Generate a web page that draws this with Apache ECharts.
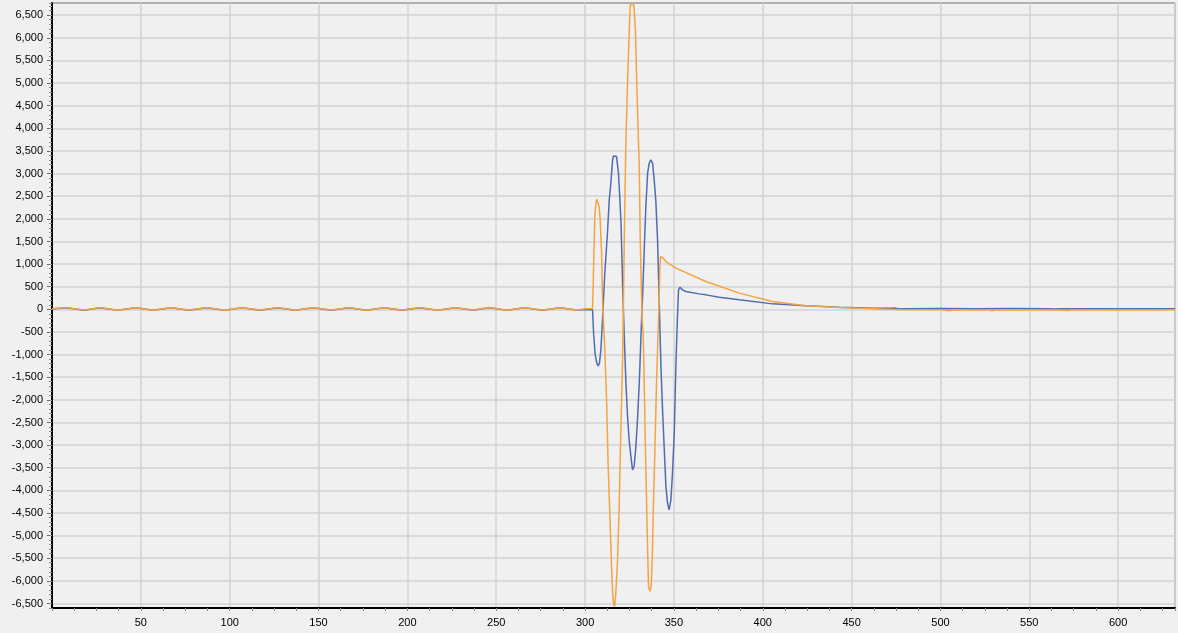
<!DOCTYPE html>
<html><head><meta charset="utf-8">
<style>html,body{margin:0;padding:0;background:#f0f0f0;}#chart{width:1178px;height:633px;}</style>
<script src="https://cdn.jsdelivr.net/npm/echarts@6.0.0/dist/echarts.min.js"></script>
</head><body><div id="chart"></div>
<script>
const yTickValues = [-6500,-6000,-5500,-5000,-4500,-4000,-3500,-3000,-2500,-2000,-1500,-1000,-500,0,500,1000,1500,2000,2500,3000,3500,4000,4500,5000,5500,6000,6500];
const xTickValues = [50,100,150,200,250,300,350,400,450,500,550,600];

const blueSeries = [
 [0,10],[8,35],[18,-18],[27,35],[37,-20],[47,33],[57,-20],[67,33],[77,-18],[87,35],[97,-20],[107,33],[117,-18],[127,35],[137,-20],[147,33],[157,-18],[167,35],[177,-20],[187,33],[197,-18],[207,35],[217,-20],[227,33],[237,-18],[246,35],[256,-20],[266,33],[276,-18],[286,33],[295,-15],[300,-8],[304.2,-10],
 [304.8,-527],[305.7,-1005],[306.6,-1189],[307.4,-1248],[308.1,-1189],[308.9,-895],[309.8,-232],[311.1,799],[312.6,1683],[313.6,2419],[314.5,2787],[315.5,3302],[316.0,3390],[317.0,3405],[317.7,3376],[318.8,3008],[319.6,2419],[320.3,1830],[321.1,578],[322.0,-527],[323.0,-1631],[323.9,-2368],[324.8,-2883],[325.8,-3251],[326.7,-3546],[327.6,-3472],[328.6,-3030],[329.5,-2441],[330.5,-1631],[331.4,-674],[332.0,-11],[332.3,215],[333.3,1319],[334.2,2272],[335.2,3008],[336.1,3229],[337.0,3302],[338.0,3229],[338.9,2860],[339.8,2419],[340.8,1535],[341.7,210],[342.7,-1263],[343.6,-2221],[344.5,-3030],[345.5,-3914],[346.4,-4282],[347.3,-4430],[348.3,-4208],[349.2,-3620],[350.2,-2736],[351.1,-1263],[352.0,-158],[352.6,430],[353.4,489],[354.9,430],[356.7,394],[364.2,342],[368,320],[375.5,269],[386.8,210],[405.5,121],[424.3,77],[443,49],[462,26],[472,22],[474,30],[476,20],[481,14],
 [500,16],[520,14],[540,16],[560,15],[565,8],[567,15],[580,15],[600,14],[620,15],[632,14]
];

const orangeSeries = [
 [0,12],[8,38],[18,-15],[27,38],[37,-18],[47,35],[57,-18],[67,35],[77,-15],[87,38],[97,-18],[107,35],[117,-15],[127,38],[137,-18],[147,35],[157,-15],[167,38],[177,-18],[187,35],[197,-15],[207,38],[217,-18],[227,35],[237,-15],[246,40],[256,-18],[266,35],[276,-15],[286,35],[295,-12],[300,15],[304.2,20],
 [304.6,578],[305.0,1314],[305.5,2051],[306.1,2346],[306.6,2434],[307.4,2419],[307.9,2272],[308.5,1977],[309.3,1241],[309.8,210],[311.1,-895],[312.1,-1999],[313.0,-3472],[314.0,-4577],[314.9,-5681],[315.5,-6270],[316.0,-6491],[316.6,-6565],[317.3,-6270],[318.3,-5534],[319.2,-4356],[320.1,-2736],[321.1,-1116],[321.6,210],[322.4,2419],[323.1,3892],[323.9,4997],[324.7,5954],[325.4,6728],[326.5,6765],[327.5,6728],[328.4,6101],[329.1,4997],[329.9,3892],[330.5,3155],[331.0,1682],[331.6,578],[332.1,-232],[332.7,-527],[333.3,-1631],[333.8,-2736],[334.6,-4208],[335.2,-5313],[335.7,-6123],[336.5,-6233],[337.2,-6123],[337.8,-5534],[338.3,-4577],[339.3,-3104],[340.2,-1631],[341.2,-379],[341.7,210],[342.1,946],[342.5,1167],[343.0,1204],[344.0,1130],[345.5,1057],[348,990],[351.1,910],[368,615],[386.8,358],[405.5,172],[424.3,77],[443,40],[462,15],[481,-10],
 [500,-10],[505,-30],[507,-10],[527,-12],[529,-30],[531,-12],[550,-10],[565,-14],[572,-28],[574,-12],[600,-10],[620,-12],[632,-10]
];

const chart = echarts.init(document.getElementById('chart'), null, {renderer:'canvas'});
const font = 'Liberation Sans';
chart.setOption({
  animation: false,
  backgroundColor: '#f0f0f0',
  grid: {left: 52, right: 3, top: 3, bottom: 25, show: true, backgroundColor: '#f0f0f0', borderColor: '#707070', borderWidth: 1},
  xAxis: [
    {type: 'value', min: 0, max: 632, interval: 50, position: 'bottom',
     axisLine: {show: true, onZero: false, lineStyle: {color: '#000', width: 2}},
     axisTick: {show: false},
     axisLabel: {color: '#000', fontSize: 11, fontFamily: font, margin: 9,
       formatter: v => xTickValues.includes(v) ? String(v) : ''},
     splitLine: {show: true, lineStyle: {color: '#d3d3d3', width: 1.5}}},
    {type: 'value', min: 0, max: 632, interval: 12.5, position: 'bottom',
     axisLine: {show: false, onZero: false}, axisLabel: {show: false}, splitLine: {show: false},
     axisTick: {show: true, length: 3, lineStyle: {color: '#8a8a8a'}}}
  ],
  yAxis: [
    {type: 'value', min: -6600, max: 6770, position: 'left',
     axisLine: {show: true, onZero: false, lineStyle: {color: '#000', width: 2}},
     axisTick: {show: true, length: 5, customValues: yTickValues, lineStyle: {color: '#666'}},
     axisLabel: {customValues: yTickValues, color: '#000', fontSize: 11, fontFamily: font, margin: 9,
       formatter: v => Number(v).toLocaleString('en-US')},
     splitLine: {show: true, lineStyle: {color: '#d3d3d3', width: 1.5}}},
    {type: 'value', min: -6600, max: 6770, interval: 100, position: 'left',
     axisLine: {show: false, onZero: false}, axisLabel: {show: false}, splitLine: {show: false},
     axisTick: {show: true, length: 3, lineStyle: {color: '#8a8a8a'}}}
  ],
  series: [
    {type: 'line', name: 'A', data: blueSeries, showSymbol: false, symbol: 'none',
     lineStyle: {color: '#4e6db0', width: 1.5}, itemStyle: {color: '#4e6db0'}},
    {type: 'line', name: 'B', data: orangeSeries, showSymbol: false, symbol: 'none',
     lineStyle: {color: '#f5a340', width: 1.5}, itemStyle: {color: '#f5a340'}}
  ]
});
</script>
</body></html>
